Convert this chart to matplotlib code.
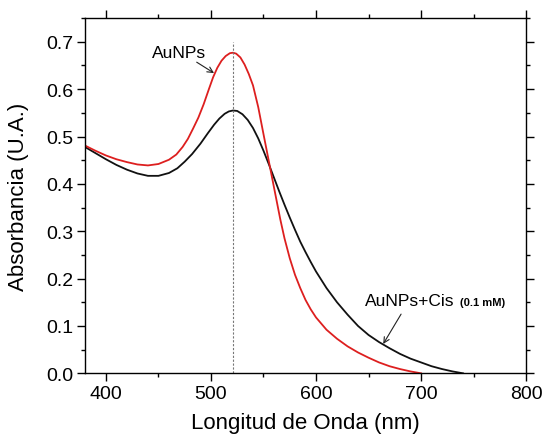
import matplotlib
matplotlib.use("Agg")
import matplotlib.pyplot as plt
from matplotlib.ticker import MultipleLocator

plt.rcParams['font.family'] = ['Liberation Sans', 'DejaVu Sans']

# AuNPs (red)
wl_au = [380, 390, 400, 410, 420, 430, 440, 450, 460, 467, 473, 478, 483, 488,
         493, 498, 502, 506, 510, 514, 518, 521, 524, 528, 532, 536, 540, 545,
         550, 554, 558, 562, 566, 570, 575, 580, 585, 590, 595, 600, 610, 620,
         630, 640, 650, 660, 670, 680, 690, 700]
abs_au = [0.481, 0.470, 0.460, 0.452, 0.446, 0.441, 0.439, 0.442, 0.451, 0.462,
          0.478, 0.495, 0.517, 0.540, 0.568, 0.600, 0.625, 0.645, 0.660, 0.670,
          0.676, 0.677, 0.675, 0.667, 0.652, 0.632, 0.608, 0.562, 0.505, 0.460,
          0.415, 0.370, 0.325, 0.285, 0.243, 0.208, 0.180, 0.155, 0.135, 0.118,
          0.092, 0.073, 0.057, 0.044, 0.033, 0.023, 0.015, 0.009, 0.004, 0.0]

# AuNPs + Cis 0.1 mM (black)
wl_cis = [380, 390, 400, 410, 420, 430, 440, 450, 460, 468, 475, 482, 490, 497,
          503, 508, 513, 517, 521, 525, 530, 535, 540, 545, 550, 555, 560, 565,
          570, 575, 580, 585, 590, 595, 600, 610, 620, 630, 640, 650, 660, 670,
          680, 690, 700, 710, 720, 730, 740]
abs_cis = [0.478, 0.465, 0.452, 0.440, 0.430, 0.422, 0.417, 0.417, 0.423, 0.433,
           0.447, 0.463, 0.485, 0.507, 0.525, 0.538, 0.548, 0.553, 0.555, 0.554,
           0.547, 0.535, 0.518, 0.496, 0.470, 0.442, 0.413, 0.384, 0.356, 0.329,
           0.303, 0.278, 0.256, 0.235, 0.215, 0.180, 0.150, 0.124, 0.100, 0.081,
           0.066, 0.053, 0.041, 0.031, 0.023, 0.015, 0.009, 0.004, 0.0]

peak_wl = 521

fig = plt.figure(figsize=(5.48, 4.35), dpi=100)
ax = fig.add_axes([0.155, 0.1395, 0.805, 0.8165])

ax.plot(wl_cis, abs_cis, color='#111111', lw=1.3)
ax.plot(wl_au, abs_au, color='#dd1f1f', lw=1.3)
ax.plot([peak_wl, peak_wl], [0, 0.70], color='#777777', lw=0.8, ls=(0, (2, 1.5)))

arrow = dict(arrowstyle='->', color='#222222', lw=0.8, shrinkA=0, shrinkB=0)
ax.text(470, 0.677, 'AuNPs', fontsize=12.5, ha='center', va='center')
ax.annotate('', xy=(502.9, 0.634), xytext=(486.4, 0.657), arrowprops=arrow)
ax.text(689, 0.153, 'AuNPs+Cis', fontsize=12.5, ha='center', va='center')
ax.text(737, 0.151, '(0.1 mM)', fontsize=8, fontweight='bold', ha='left', va='center')
ax.annotate('', xy=(664, 0.062), xytext=(681, 0.125), arrowprops=arrow)

ax.set_xlim(380, 800)
ax.set_ylim(0, 0.75)
ax.xaxis.set_major_locator(MultipleLocator(100))
ax.xaxis.set_minor_locator(MultipleLocator(50))
ax.yaxis.set_minor_locator(MultipleLocator(0.05))
ax.set_yticks([0, 0.1, 0.2, 0.3, 0.4, 0.5, 0.6, 0.7])
ax.tick_params(which='both', direction='out', top=True, right=True,
               labelsize=14, width=1.0)
ax.tick_params(which='major', length=5.5, pad=3)
ax.tick_params(which='minor', length=3)
for s in ax.spines.values():
    s.set_linewidth(1.0)

ax.set_xlabel('Longitud de Onda (nm)', fontsize=16, labelpad=7)
ax.set_ylabel('Absorbancia (U.A.)', fontsize=16, labelpad=12)

fig.savefig('out.png', dpi=100)
